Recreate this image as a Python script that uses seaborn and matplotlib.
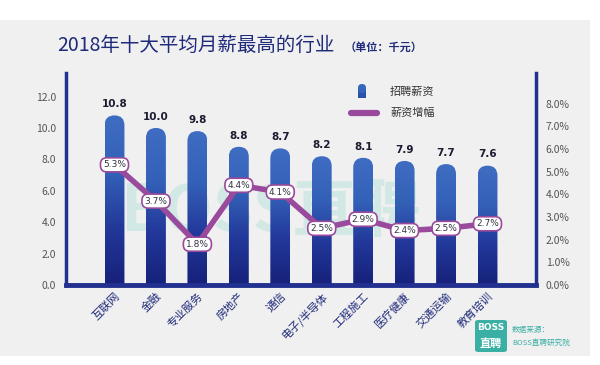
import numpy as np
import pandas as pd
import matplotlib
matplotlib.use("Agg")
import matplotlib.pyplot as plt
import seaborn as sns
from matplotlib.patches import FancyBboxPatch, Rectangle
from matplotlib.lines import Line2D
from matplotlib.colors import LinearSegmentedColormap

# Datos
industries = ["互联网", "金融", "专业服务", "房地产", "通信",
              "电子/半导体", "工程施工", "医疗健康", "交通运输", "教育培训"]
salary = [10.8, 10.0, 9.8, 8.8, 8.7, 8.2, 8.1, 7.9, 7.7, 7.6]
growth = [5.3, 3.7, 1.8, 4.4, 4.1, 2.5, 2.9, 2.4, 2.5, 2.7]
salary_ticks = [0, 2, 4, 6, 8, 10, 12]
growth_ticks = [0, 1, 2, 3, 4, 5, 6, 7, 8]

NAVY = "#1f2a7a"
SPINE = "#22308f"
PURPLE = "#9a4a9c"
TEAL = "#3aafa4"

sns.set_theme(style="white")
plt.rcParams["font.family"] = ["Noto Sans CJK SC", "DejaVu Sans"]
plt.rcParams["axes.unicode_minus"] = False

df = pd.DataFrame({"行业": industries, "薪资": salary, "增幅": growth})

W, H = 600, 365
fig = plt.figure(figsize=(W / 100, H / 100), dpi=100)
fig.patch.set_facecolor("white")

# Panel gris de fondo
fig.add_artist(Rectangle((0, 1 - 356 / H), 590 / W, (356 - 20) / H,
                         transform=fig.transFigure, facecolor="#f0f0f0",
                         edgecolor="none", zorder=-3))

# Marca de agua
fig.text(270 / W, 1 - 212 / H, "BOSS直聘", fontsize=46, fontweight="bold",
         color="#bfe3df", alpha=0.6, ha="center", va="center", zorder=-2)

ax = fig.add_axes([66 / W, 1 - 285 / H, 470 / W, 212 / H])
ax.patch.set_visible(False)

sns.barplot(data=df, x="行业", y="薪资", ax=ax, width=0.48, color="#2e4fae")

xlim = (-1.17, len(industries) - 1 + 1.17)
ylim = (0, 13.5)
ax.set_xlim(*xlim)
ax.set_ylim(*ylim)

# Barras con degradado y parte superior redondeada
cmap = LinearSegmentedColormap.from_list(
    "bar", ["#16217a", "#22389a", "#3461b8", "#3f6dc2"])
grad = np.linspace(0, 1, 256).reshape(-1, 1)
xpx = 470 / (xlim[1] - xlim[0])
ypx = 212 / (ylim[1] - ylim[0])
for p in list(ax.patches):
    x, w, h = p.get_x(), p.get_width(), p.get_height()
    p.set_visible(False)
    shape = FancyBboxPatch((x, -1), w, h + 1,
                           boxstyle=f"round,pad=0,rounding_size={w / 2}",
                           mutation_aspect=xpx / ypx,
                           facecolor="none", edgecolor="none")
    ax.add_patch(shape)
    im = ax.imshow(grad, extent=(x, x + w, 0, h), origin="lower", cmap=cmap,
                   aspect="auto", zorder=2)
    im.set_clip_path(shape)

ax.set_xlim(*xlim)
ax.set_ylim(*ylim)

for i, s in enumerate(salary):
    ax.text(i, s + 0.4, f"{s:.1f}", ha="center", va="bottom", fontsize=7.5,
            fontweight="bold", color="#1c1c30", family="DejaVu Sans")

ax.set_yticks(salary_ticks)
ax.set_yticklabels([f"{t:.1f}" for t in salary_ticks])
ax.set_xticks(range(len(industries)))
ax.set_xticklabels(industries, rotation=45, ha="right", rotation_mode="anchor",
                   fontsize=8, color=NAVY)
ax.tick_params(axis="y", length=0, pad=7, labelsize=7.5, labelcolor="#555555")
ax.tick_params(axis="x", length=0, pad=4)
ax.set_xlabel("")
ax.set_ylabel("")
for side in ["top", "right"]:
    ax.spines[side].set_visible(False)
ax.spines["left"].set_color(SPINE)
ax.spines["left"].set_linewidth(2.5)
ax.spines["bottom"].set_color(SPINE)
ax.spines["bottom"].set_linewidth(3.5)

# Eje secundario: incremento salarial
ax2 = ax.twinx()
sns.lineplot(x=np.arange(len(industries)), y=growth, ax=ax2, color=PURPLE,
             linewidth=4, zorder=3)
ax2.set_ylim(0, 9.35)
ax2.set_xlim(*xlim)
ax2.set_yticks(growth_ticks)
ax2.set_yticklabels([f"{t:.1f}%" for t in growth_ticks])
ax2.tick_params(axis="y", length=0, pad=7, labelsize=7.5, labelcolor="#555555")
ax2.set_ylabel("")
for side in ["top", "left", "bottom"]:
    ax2.spines[side].set_visible(False)
ax2.spines["right"].set_color(SPINE)
ax2.spines["right"].set_linewidth(2.5)

for i, g in enumerate(growth):
    ax2.text(i, g, f"{g:.1f}%", ha="center", va="center", fontsize=6.5,
             color="#333344", family="DejaVu Sans", zorder=5,
             bbox=dict(boxstyle="round,pad=0.28,rounding_size=0.7",
                       fc="white", ec=PURPLE, lw=1.2))

# Título
fig.text(57 / W, 1 - 45 / H, "2018年十大平均月薪最高的行业", fontsize=14,
         color=NAVY, ha="left", va="center")
fig.text(345 / W, 1 - 47 / H, "（单位：千元）", fontsize=8, color=NAVY,
         fontweight="bold", ha="left", va="center")

# Leyenda manual: barra pequeña con la parte superior redondeada
fig.add_artist(Rectangle((358 / W, 1 - 98 / H), 8 / W, 9 / H,
                         transform=fig.transFigure,
                         facecolor="#2a52ac", edgecolor="none"))
fig.add_artist(FancyBboxPatch((358 / W, 1 - 93 / H), 8 / W, 9 / H,
                              boxstyle=f"round,pad=0,rounding_size={4 / W}",
                              mutation_aspect=W / H,
                              transform=fig.transFigure,
                              facecolor="#3565bd", edgecolor="none"))
fig.text(390 / W, 1 - 92 / H, "招聘薪资", fontsize=8, color="#333333",
         ha="left", va="center")
fig.add_artist(Line2D([351 / W, 377 / W], [1 - 113 / H, 1 - 113 / H],
                      transform=fig.transFigure, color=PURPLE, lw=4.5,
                      solid_capstyle="round"))
fig.text(390 / W, 1 - 113 / H, "薪资增幅", fontsize=8, color="#333333",
         ha="left", va="center")

# Logo y fuente
fig.add_artist(FancyBboxPatch((475 / W, 1 - 352 / H), 32 / W, 32 / H,
                              boxstyle="round,pad=0,rounding_size=0.006",
                              transform=fig.transFigure,
                              facecolor=TEAL, edgecolor="none"))
fig.text(491 / W, 1 - 327 / H, "BOSS", fontsize=6.5, fontweight="bold",
         color="white", ha="center", va="center", family="DejaVu Sans")
fig.text(491 / W, 1 - 343 / H, "直聘", fontsize=8, fontweight="bold",
         color="white", ha="center", va="center")
fig.text(512 / W, 1 - 330 / H, "数据来源：", fontsize=5.5, color=TEAL,
         ha="left", va="center")
fig.text(512 / W, 1 - 343 / H, "BOSS直聘研究院", fontsize=5.5, color=TEAL,
         ha="left", va="center")

fig.savefig("out.png", dpi=100)
